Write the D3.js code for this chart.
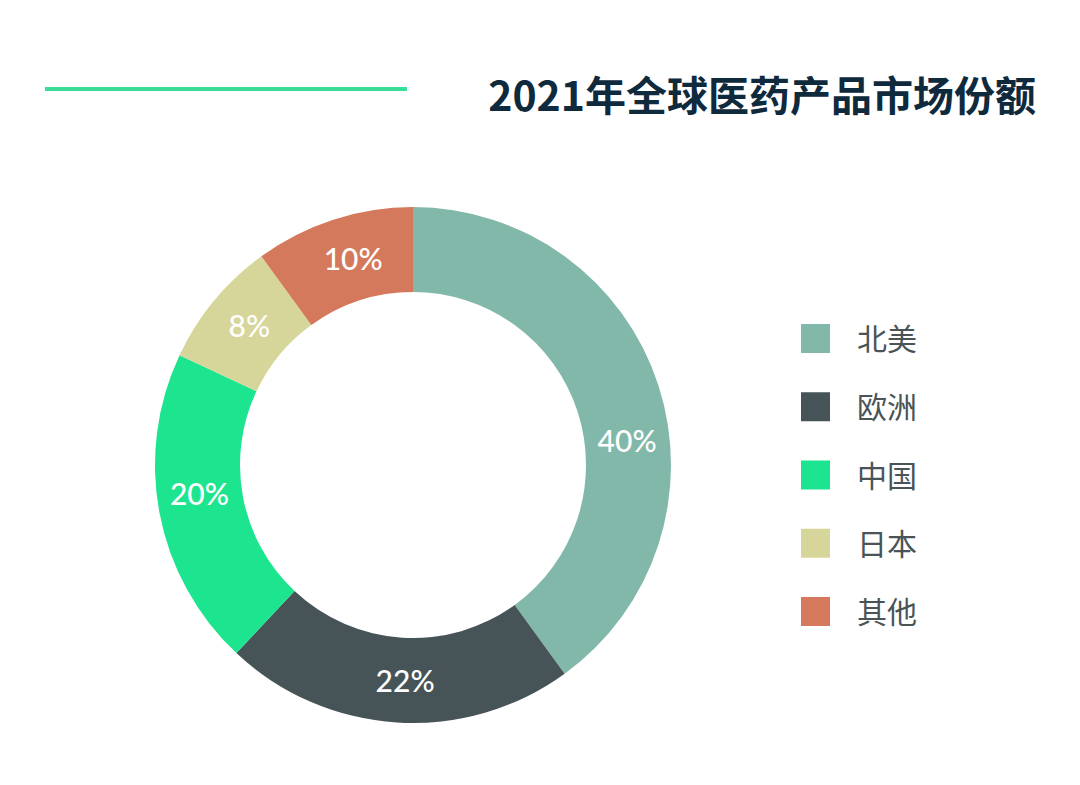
<!DOCTYPE html>
<html><head><meta charset="utf-8">
<script src="https://cdn.jsdelivr.net/npm/d3@7"></script>
<style>body{margin:0;background:#fff}svg{display:block}</style>
</head><body>
<svg id="c" width="1080" height="785"></svg>
<script>
const title = "2021年全球医药产品市场份额";
const categories = ["北美", "欧洲", "中国", "日本", "其他"];
const values = [40, 22, 20, 8, 10];
const colors = ["#82b8a9", "#465457", "#1de58f", "#d6d69a", "#d4795b"];

const svg = d3.select("#c");
const W = 1080, H = 785;
svg.append("rect").attr("width", W).attr("height", H).attr("fill", "#fff");

// header rule + title
svg.append("line").attr("x1", 45).attr("x2", 407).attr("y1", 89).attr("y2", 89)
  .attr("stroke", "#38dd98").attr("stroke-width", 4);
svg.append("text").attr("x", 1036).attr("y", 111).attr("text-anchor", "end")
  .attr("font-family", "'Noto Sans CJK SC', 'Noto Sans', sans-serif")
  .attr("font-weight", 700).attr("font-size", 41).attr("fill", "#0f2a3d")
  .text(title);

// donut
const cx = 413, cy = 465, rOuter = 258, rInner = 173;
const color = d3.scaleOrdinal().domain(categories).range(colors);
const pie = d3.pie().sort(null).value(d => d.v);
const data = categories.map((c, i) => ({ c, v: values[i] }));
const arcs = pie(data);
const arc = d3.arc().innerRadius(rInner).outerRadius(rOuter);
const g = svg.append("g").attr("transform", `translate(${cx},${cy})`);
g.selectAll("path").data(arcs).join("path")
  .attr("d", arc).attr("fill", d => color(d.data.c));

const labelAngleShift = { "北美": 0.2, "欧洲": -0.026, "中国": 0.056, "日本": 0.017, "其他": 0.033 };
const rLabel = (rInner + rOuter) / 2;
g.selectAll("text.lbl").data(arcs).join("text").attr("class", "lbl")
  .each(function(d) {
    const a = (d.startAngle + d.endAngle) / 2 + (labelAngleShift[d.data.c] || 0);
    d3.select(this).attr("x", rLabel * Math.sin(a)).attr("y", -rLabel * Math.cos(a));
  })
  .attr("text-anchor", "middle").attr("dominant-baseline", "central")
  .attr("font-family", "Lato, 'Open Sans', sans-serif").attr("font-weight", 500)
  .attr("font-size", 30).attr("fill", "#fff")
  .text(d => d.data.v + "%");

// legend
const legend = svg.append("g").attr("transform", "translate(801,324)");
const ly = d3.scalePoint().domain(categories).range([0, 273]);
const items = legend.selectAll("g").data(categories).join("g")
  .attr("transform", d => `translate(0,${ly(d)})`);
items.append("rect").attr("width", 29).attr("height", 29).attr("fill", d => color(d));
items.append("text").attr("x", 56).attr("y", 13).attr("dominant-baseline", "central")
  .attr("font-family", "'Noto Sans CJK SC', sans-serif").attr("font-size", 30)
  .attr("fill", "#4a5456").text(d => d);
</script>
</body></html>
